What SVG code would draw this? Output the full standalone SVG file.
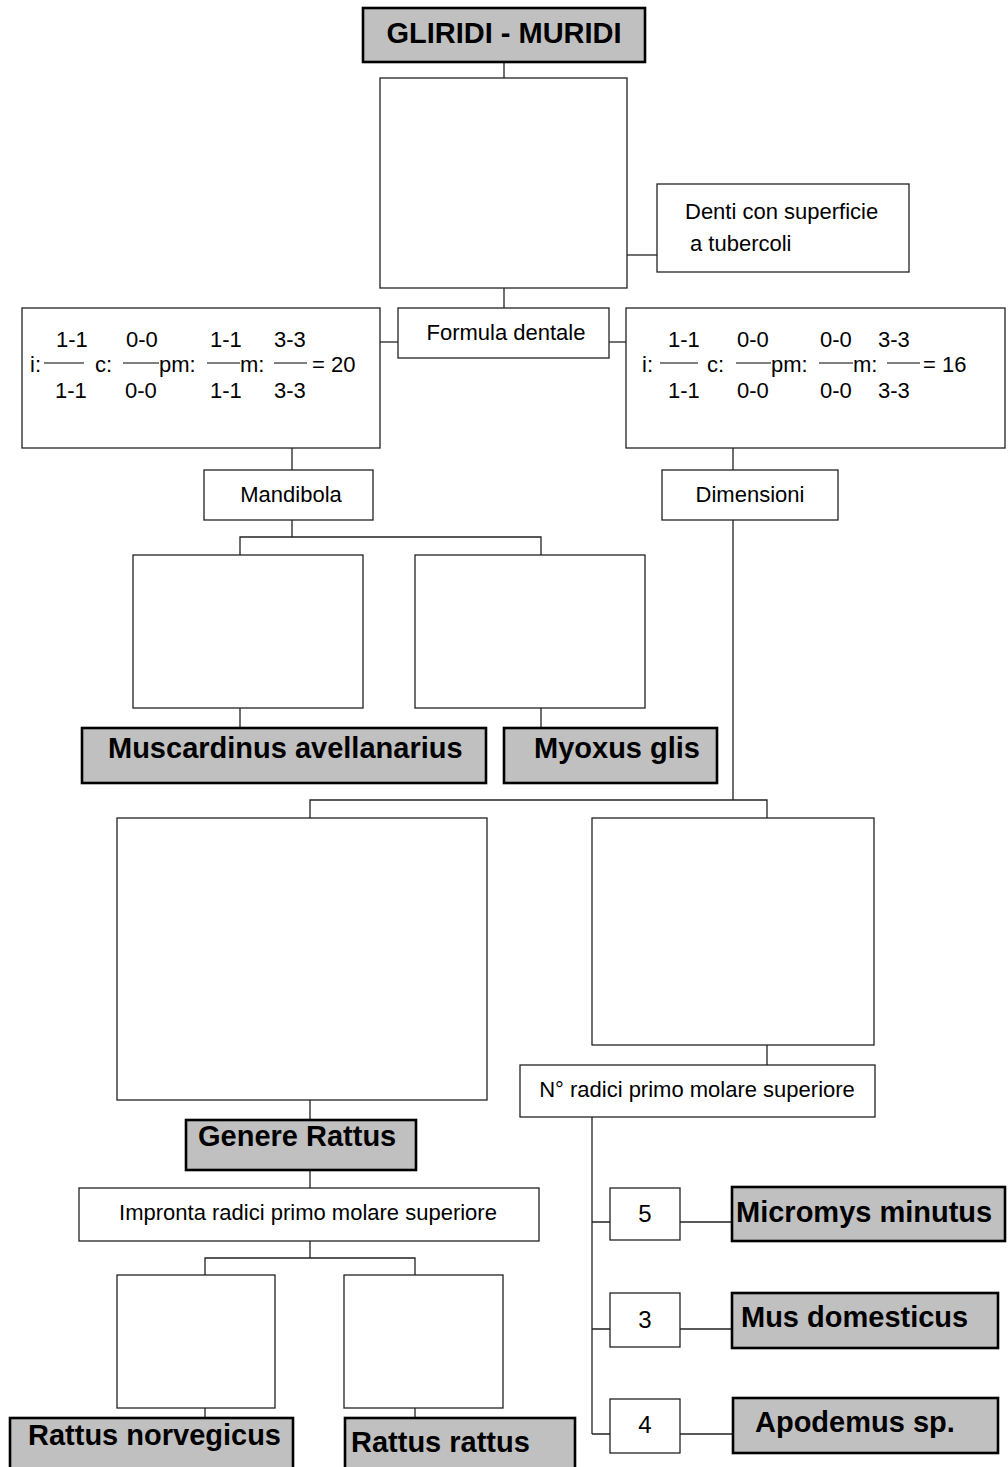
<svg xmlns="http://www.w3.org/2000/svg" width="1008" height="1467" viewBox="0 0 1008 1467">
  <style>
    .box { fill: #ffffff; stroke: #222222; stroke-width: 1.3; }
    .key { fill: #c0c0c0; stroke: #000000; stroke-width: 2.6; }
    .t { font-family: "Liberation Sans", Arial, sans-serif; font-size: 22px; fill: #000000; }
    .n { font-size: 24px; }
    .b { font-family: "Liberation Sans", Arial, sans-serif; font-size: 29px; font-weight: bold; fill: #000000; }
    .frac { stroke: #000000; stroke-width: 1; }
    #connectors path { fill: none; stroke: #222222; stroke-width: 1.3; }
  </style>
  <rect width="1008" height="1467" fill="#ffffff"/>

  <!-- connecting lines -->
  <g id="connectors">
    <path d="M504 62 V78"/>
    <path d="M627 255 H657"/>
    <path d="M504 288 V308"/>
    <path d="M380 342 H398"/>
    <path d="M609 342 H626"/>
    <path d="M292 448 V470"/>
    <path d="M733 448 V470"/>
    <path d="M292 520 V537 M240 555 V537 H541 V555"/>
    <path d="M240 708 V728"/>
    <path d="M541 708 V728"/>
    <path d="M733 520 V800 M310 818 V800 H767 V818"/>
    <path d="M310 1100 V1120"/>
    <path d="M310 1170 V1188"/>
    <path d="M310 1241 V1258 M205 1275 V1258 H415 V1275"/>
    <path d="M205 1408 V1418"/>
    <path d="M415 1408 V1418"/>
    <path d="M767 1045 V1065"/>
    <path d="M592 1117 V1434 M592 1222 H610 M592 1329 H610 M592 1434 H610"/>
    <path d="M680 1222 H732"/>
    <path d="M680 1329 H732"/>
    <path d="M680 1434 H733"/>
  </g>

  <!-- family -->
  <g id="n-title">
    <rect class="key" x="363" y="8" width="282" height="54"/>
    <text class="b" x="504" y="43" text-anchor="middle">GLIRIDI - MURIDI</text>
  </g>

  <g id="n-q1"><rect class="box" x="380" y="78" width="247" height="210"/></g>

  <g id="n-denti">
    <rect class="box" x="657" y="184" width="252" height="88"/>
    <text class="t" x="685" y="219">Denti con superficie</text>
    <text class="t" x="690" y="251">a tubercoli</text>
  </g>

  <g id="n-formula">
    <rect class="box" x="398" y="308" width="211" height="50"/>
    <text class="t" x="506" y="340" text-anchor="middle">Formula dentale</text>
  </g>

  <!-- dental formula, 20 teeth -->
  <g id="n-f20">
    <rect class="box" x="22" y="308" width="358" height="140"/>
    <text class="t" y="347"><tspan x="56">1-1</tspan><tspan x="126">0-0</tspan><tspan x="210">1-1</tspan><tspan x="274">3-3</tspan></text>
    <text class="t" y="372"><tspan x="30">i:</tspan><tspan x="95">c:</tspan><tspan x="159">pm:</tspan><tspan x="240">m:</tspan><tspan x="312">= 20</tspan></text>
    <text class="t" y="398"><tspan x="55">1-1</tspan><tspan x="125">0-0</tspan><tspan x="210">1-1</tspan><tspan x="274">3-3</tspan></text>
    <path class="frac" d="M44 363 H84 M123 363 H159 M207 363 H240 M274 363 H307"/>
  </g>

  <!-- dental formula, 16 teeth -->
  <g id="n-f16">
    <rect class="box" x="626" y="308" width="379" height="140"/>
    <text class="t" y="347"><tspan x="668">1-1</tspan><tspan x="737">0-0</tspan><tspan x="820">0-0</tspan><tspan x="878">3-3</tspan></text>
    <text class="t" y="372"><tspan x="642">i:</tspan><tspan x="707">c:</tspan><tspan x="771">pm:</tspan><tspan x="853">m:</tspan><tspan x="923">= 16</tspan></text>
    <text class="t" y="398"><tspan x="668">1-1</tspan><tspan x="737">0-0</tspan><tspan x="820">0-0</tspan><tspan x="878">3-3</tspan></text>
    <path class="frac" d="M660 363 H698 M736 363 H771 M819 363 H853 M887 363 H920"/>
  </g>

  <g id="n-mandibola">
    <rect class="box" x="204" y="470" width="169" height="50"/>
    <text class="t" x="291" y="502" text-anchor="middle">Mandibola</text>
  </g>

  <g id="n-dimensioni">
    <rect class="box" x="662" y="470" width="176" height="50"/>
    <text class="t" x="750" y="502" text-anchor="middle">Dimensioni</text>
  </g>

  <g id="n-q2"><rect class="box" x="133" y="555" width="230" height="153"/></g>
  <g id="n-q3"><rect class="box" x="415" y="555" width="230" height="153"/></g>

  <g id="n-muscardinus">
    <rect class="key" x="82" y="728" width="404" height="55"/>
    <text class="b" x="108" y="758">Muscardinus avellanarius</text>
  </g>
  <g id="n-myoxus">
    <rect class="key" x="504" y="728" width="213" height="55"/>
    <text class="b" x="534" y="758">Myoxus glis</text>
  </g>

  <g id="n-q4"><rect class="box" x="117" y="818" width="370" height="282"/></g>
  <g id="n-q5"><rect class="box" x="592" y="818" width="282" height="227"/></g>

  <g id="n-rattus">
    <rect class="key" x="186" y="1120" width="230" height="50"/>
    <text class="b" x="198" y="1146">Genere Rattus</text>
  </g>

  <g id="n-impronta">
    <rect class="box" x="79" y="1188" width="460" height="53"/>
    <text class="t" x="308" y="1220" text-anchor="middle">Impronta radici primo molare superiore</text>
  </g>

  <g id="n-q6"><rect class="box" x="117" y="1275" width="158" height="133"/></g>
  <g id="n-q7"><rect class="box" x="344" y="1275" width="159" height="133"/></g>

  <g id="n-norvegicus">
    <rect class="key" x="10" y="1418" width="283" height="56"/>
    <text class="b" x="28" y="1445">Rattus norvegicus</text>
  </g>
  <g id="n-rrattus">
    <rect class="key" x="345" y="1418" width="230" height="56"/>
    <text class="b" x="351" y="1452">Rattus rattus</text>
  </g>

  <g id="n-radici">
    <rect class="box" x="520" y="1065" width="355" height="52"/>
    <text class="t" x="697" y="1097" text-anchor="middle">N° radici primo molare superiore</text>
  </g>

  <g id="n-r5">
    <rect class="box" x="610" y="1188" width="70" height="52"/>
    <text class="t n" x="645" y="1222" text-anchor="middle">5</text>
  </g>
  <g id="n-r3">
    <rect class="box" x="610" y="1293" width="70" height="54"/>
    <text class="t n" x="645" y="1328" text-anchor="middle">3</text>
  </g>
  <g id="n-r4">
    <rect class="box" x="610" y="1399" width="70" height="54"/>
    <text class="t n" x="645" y="1433" text-anchor="middle">4</text>
  </g>

  <g id="n-micromys">
    <rect class="key" x="732" y="1187" width="273" height="54"/>
    <text class="b" x="736" y="1222">Micromys minutus</text>
  </g>
  <g id="n-mus">
    <rect class="key" x="732" y="1293" width="266" height="55"/>
    <text class="b" x="741" y="1327">Mus domesticus</text>
  </g>
  <g id="n-apodemus">
    <rect class="key" x="733" y="1398" width="265" height="55"/>
    <text class="b" x="755" y="1432">Apodemus sp.</text>
  </g>
</svg>
